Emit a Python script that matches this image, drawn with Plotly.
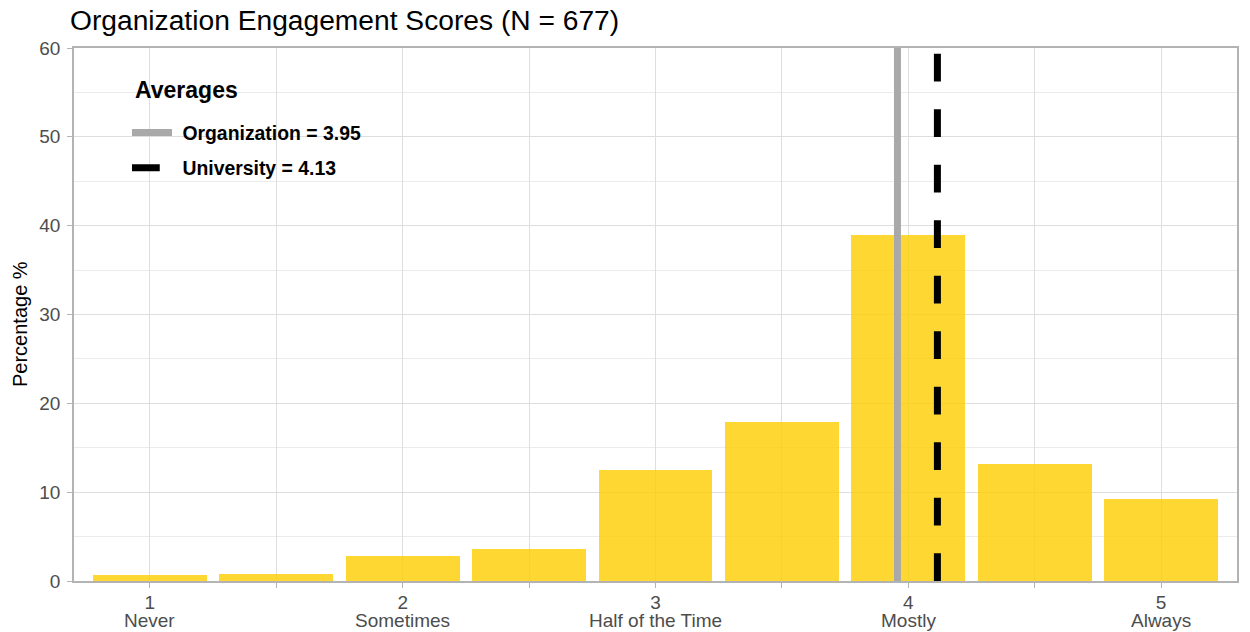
import plotly.graph_objects as go

# Data
score_positions = [1, 1.5, 2, 2.5, 3, 3.5, 4, 4.5, 5]
percentages = [0.67, 0.8, 2.8, 3.6, 12.5, 17.9, 39.0, 13.2, 9.25]
tick_values = [1, 1.5, 2, 2.5, 3, 3.5, 4, 4.5, 5]
tick_numbers = ["1", "", "2", "", "3", "", "4", "", "5"]
label_values = [1, 2, 3, 4, 5]
label_words = ["Never", "Sometimes", "Half of the Time", "Mostly", "Always"]
org_line_x = 3.957
uni_line_x = 4.115
org_label = "3.95"
uni_label = "4.13"
n_total = 677

FONT = "Liberation Sans, Arial, Helvetica, sans-serif"

# plot-area geometry (px)
L, R, T, B = 74, 1237, 48, 581
PW, PH = R - L, B - T


def px_x(px):
    return (px - L) / PW


def px_y(py):
    return (B - py) / PH


fig = go.Figure()
fig.add_trace(go.Bar(
    x=score_positions, y=percentages, width=0.45,
    marker=dict(color="rgba(255,205,0,0.8)", line=dict(width=0)),
    showlegend=False, hoverinfo="x+y",
))
fig.add_trace(go.Scatter(
    x=[org_line_x, org_line_x], y=[0, 60], mode="lines",
    line=dict(color="#A9A9A9", width=7),
    name=f"&nbsp;<b>Organization = {org_label}</b>", legendgroup="org",
))
fig.add_trace(go.Scatter(
    x=[uni_line_x, uni_line_x], y=[0, 60], mode="lines",
    line=dict(color="#000000", width=7, dash="27.75px,27.75px"),
    name=f"&nbsp;<b>University = {uni_label}</b>", legendgroup="uni",
))

annotations = [
    dict(text="<b>Averages</b>", xref="paper", yref="paper",
         x=px_x(133), y=px_y(90), xanchor="left", yanchor="middle",
         showarrow=False, font=dict(size=23, family=FONT, color="#000000")),
    dict(text="Percentage %", xref="paper", yref="paper",
         x=px_x(20), y=px_y(324), xanchor="center", yanchor="middle",
         textangle=-90, showarrow=False,
         font=dict(size=20, family=FONT, color="#000000")),
]
for xv, word in zip(label_values, label_words):
    annotations.append(dict(
        text=word, xref="x", yref="paper", x=xv, y=px_y(620.5),
        xanchor="center", yanchor="middle", showarrow=False,
        font=dict(size=19, family=FONT, color="#4D4D4D"),
    ))

fig.update_layout(
    width=1250, height=632,
    margin=dict(l=L, r=1250 - R, t=T, b=632 - B, autoexpand=False),
    paper_bgcolor="white", plot_bgcolor="white",
    font=dict(family=FONT, color="#000000"),
    title=dict(text=f"Organization Engagement Scores (N = {n_total})",
               x=70 / 1250, xanchor="left", xref="container",
               y=1 - 20 / 632, yanchor="middle", yref="container",
               font=dict(size=28.2, color="#000000", family=FONT)),
    legend=dict(
        x=px_x(127), xanchor="left",
        y=px_y(113.5), yanchor="top",
        bgcolor="rgba(0,0,0,0)", borderwidth=0,
        font=dict(size=19.4, family=FONT, color="#000000"),
        traceorder="grouped", tracegroupgap=7.0, itemwidth=40,
    ),
    shapes=[dict(type="rect", xref="paper", yref="paper",
                 x0=px_x(133), x1=px_x(363), y0=px_y(188), y1=px_y(77),
                 fillcolor="white", line=dict(width=0), layer="between")],
    annotations=annotations,
    bargap=0,
)
fig.update_xaxes(
    range=[0.7, 5.3], tickmode="array", tickvals=tick_values, ticktext=tick_numbers,
    tickfont=dict(size=19, color="#4D4D4D", family=FONT),
    ticks="outside", ticklen=5, tickcolor="#B3B3B3", tickwidth=1,
    ticklabelstandoff=-2,
    showgrid=True, gridcolor="#DEDEDE", gridwidth=1,
    showline=True, linecolor="#B3B3B3", linewidth=1.5, mirror=True,
    zeroline=False, automargin=False,
)
fig.update_yaxes(
    range=[0, 60], tickmode="linear", tick0=0, dtick=10,
    tickfont=dict(size=19, color="#4D4D4D", family=FONT),
    ticks="outside", ticklen=5, tickcolor="#B3B3B3", tickwidth=1,
    ticklabelstandoff=3,
    showgrid=True, gridcolor="#DEDEDE", gridwidth=1,
    minor=dict(dtick=5, showgrid=True, gridcolor="#EBEBEB", gridwidth=0.7, ticks=""),
    showline=True, linecolor="#B3B3B3", linewidth=1.5, mirror=True,
    zeroline=False, automargin=False,
)

fig.write_html(
    "out.html",
    config={"displayModeBar": False},
    post_script="document.body.style.margin='0';document.body.style.overflow='hidden';",
)
